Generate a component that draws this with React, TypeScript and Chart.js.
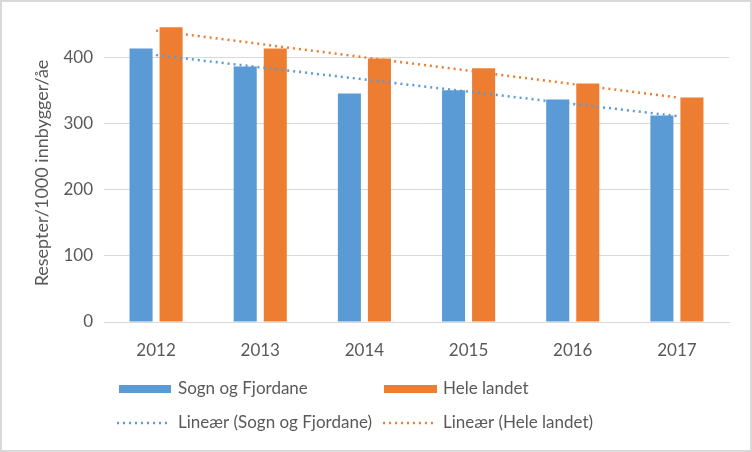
import React, { useEffect, useRef } from "react";
import { Chart, registerables } from "chart.js";

Chart.register(...registerables);

const categories = ["2012", "2013", "2014", "2015", "2016", "2017"];
const sognOgFjordane = [413, 386, 345, 350, 336, 312];
const heleLandet = [445, 413, 398, 383, 360, 339];
const trendSogn: (number | null)[] = [403, null, null, null, null, 311];
const trendHele: (number | null)[] = [440, null, null, null, null, 339];
const yTitle = "Resepter/1000 innbygger/åe";
const legendLabels = [
  "Sogn og Fjordane",
  "Hele landet",
  "Lineær (Sogn og Fjordane)",
  "Lineær (Hele landet)",
];

const BLUE = "#5B9BD5";
const ORANGE = "#ED7D31";
const TEXT = "#595959";
const GRID = "#D9D9D9";
const FONT = 'Lato, "Open Sans", sans-serif';

const legendPlugin = {
  id: "customLegend",
  afterDraw(chart: any) {
    const ctx = chart.ctx as CanvasRenderingContext2D;
    ctx.save();
    // outer border
    ctx.strokeStyle = GRID;
    ctx.lineWidth = 2;
    ctx.strokeRect(1, 1, chart.width - 2, chart.height - 2);

    ctx.font = `17px ${FONT}`;
    ctx.fillStyle = TEXT;
    ctx.textBaseline = "middle";
    ctx.textAlign = "left";
    // row 1
    const r1 = 389;
    ctx.fillStyle = BLUE;
    ctx.fillRect(119, r1 - 4, 52, 8);
    ctx.fillStyle = ORANGE;
    ctx.fillRect(384, r1 - 4, 53, 8);
    ctx.fillStyle = TEXT;
    ctx.fillText(legendLabels[0], 178, r1);
    ctx.fillText(legendLabels[1], 443, r1);
    // row 2
    const r2 = 423;
    ctx.lineWidth = 2.5;
    ctx.setLineDash([2, 4]);
    ctx.strokeStyle = BLUE;
    ctx.beginPath();
    ctx.moveTo(117, r2);
    ctx.lineTo(169, r2);
    ctx.stroke();
    ctx.strokeStyle = ORANGE;
    ctx.beginPath();
    ctx.moveTo(383, r2);
    ctx.lineTo(435, r2);
    ctx.stroke();
    ctx.setLineDash([]);
    ctx.fillStyle = TEXT;
    ctx.fillText(legendLabels[2], 178, r2);
    ctx.fillText(legendLabels[3], 443, r2);
    ctx.restore();
  },
};

export default function App() {
  const ref = useRef<HTMLCanvasElement | null>(null);

  useEffect(() => {
    document.body.style.margin = "0";
    if (!ref.current) return;
    Chart.defaults.font.family = FONT;
    const chart = new Chart(ref.current, {
      type: "bar",
      data: {
        labels: categories,
        datasets: [
          {
            type: "line",
            label: legendLabels[2],
            data: trendSogn,
            borderColor: BLUE,
            borderWidth: 2.5,
            borderDash: [2, 4],
            pointRadius: 0,
            spanGaps: true,
            fill: false,
            order: 0,
          } as any,
          {
            type: "line",
            label: legendLabels[3],
            data: trendHele,
            borderColor: ORANGE,
            borderWidth: 2.5,
            borderDash: [2, 4],
            pointRadius: 0,
            spanGaps: true,
            fill: false,
            order: 0,
          } as any,
          {
            label: legendLabels[0],
            data: sognOgFjordane,
            backgroundColor: BLUE,
            categoryPercentage: 0.577,
            barPercentage: 0.767,
            order: 1,
          },
          {
            label: legendLabels[1],
            data: heleLandet,
            backgroundColor: ORANGE,
            categoryPercentage: 0.577,
            barPercentage: 0.767,
            order: 1,
          },
        ],
      },
      options: {
        responsive: false,
        animation: false,
        layout: { padding: { left: 0, right: 23, top: 24, bottom: 0 } },
        plugins: {
          legend: { display: false },
          tooltip: { enabled: false },
        },
        scales: {
          x: {
            grid: { display: false },
            border: { display: true, color: GRID, width: 1 },
            ticks: { color: TEXT, font: { size: 17, family: FONT }, padding: 10 },
            afterFit: (s: any) => {
              s.height = 130;
            },
          },
          y: {
            min: 0,
            max: 450,
            grid: { color: GRID, drawTicks: false },
            border: { display: false },
            ticks: {
              stepSize: 100,
              includeBounds: false,
              color: TEXT,
              font: { size: 17, family: FONT },
              padding: 11,
            },
            title: {
              display: true,
              text: yTitle,
              color: TEXT,
              font: { size: 18, family: FONT },
              padding: { top: 31, bottom: 0 },
            },
            afterFit: (s: any) => {
              s.width = 104;
            },
          },
        },
      },
      plugins: [legendPlugin],
    });
    return () => chart.destroy();
  }, []);

  return (
    <div style={{ width: 752, height: 452 }}>
      <canvas ref={ref} width={752} height={452} style={{ display: "block" }} />
    </div>
  );
}
